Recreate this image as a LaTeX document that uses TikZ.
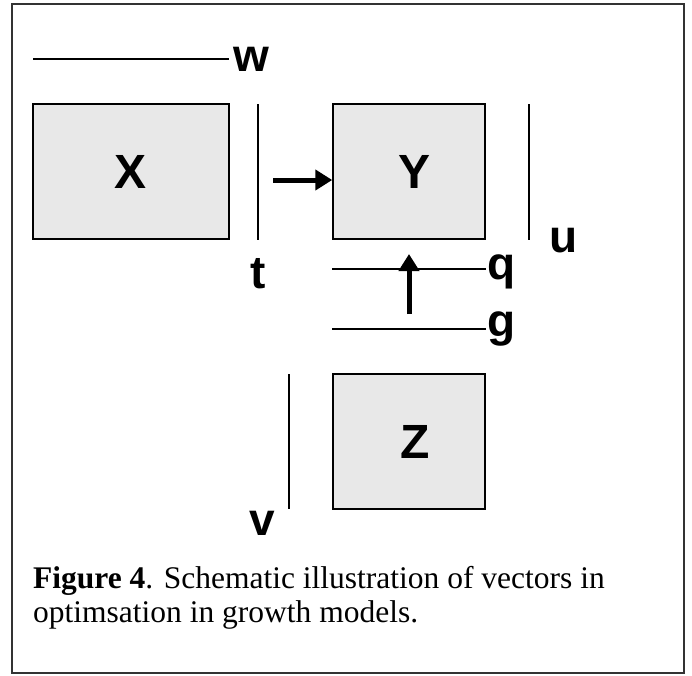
\documentclass[tikz,border=0pt]{standalone}
\usepackage{fontspec}
\setmainfont{Liberation Serif}
\newfontfamily\labelfont{Liberation Sans}
\usetikzlibrary{arrows.meta, positioning}

\begin{document}
\begin{tikzpicture}[x=1pt, y=-1pt,
    box/.style={draw, line width=1.5pt, fill=gray!18, minimum height=135pt,
        font=\labelfont\bfseries\fontsize{48}{48}\selectfont},
    vec/.style={line width=1.5pt},
    lbl/.style={inner sep=0pt, font=\labelfont\bfseries\fontsize{46}{46}\selectfont},
    flow/.style={line width=5pt, -{Triangle[length=17pt, width=20pt]}}]
    \useasboundingbox (0,0) rectangle (692,675);
    \draw[line width=1.5pt, black!80] (12,4) rectangle (684,673);

    % Boxes
    \node[box, minimum width=196pt] (X) at (131,171.5) {X};
    \node[box, minimum width=152pt] (Y) at (409,171.5) {\hspace*{10pt}Y};
    \node[box, minimum width=152pt] (Z) at (409,441.5) {\hspace*{12pt}Z};

    % Vectors
    \draw[vec] (33,59) -- (229,59);
    \node[lbl, anchor=base west] (w) at (233,71) {w};
    \draw[vec] (258,104) -- (258,240);
    \node[lbl, anchor=base] (t) at (258,288) {t};
    \draw[vec] (529,104) -- (529,240);
    \node[lbl, anchor=base west] (u) at (549,252) {u};
    \draw[vec] (Y.west |- 0,269) -- (Y.east |- 0,269);
    \node[lbl, anchor=base west] (q) at (487,279) {q};
    \draw[vec] (Y.west |- 0,329) -- (Y.east |- 0,329);
    \node[lbl, anchor=base west] (g) at (487,336) {g};
    \draw[vec] (289,374) -- (289,509);
    \node[lbl, anchor=base] (v) at (262,535) {v};

    % Flows
    \coordinate (xy) at (273,180);
    \draw[flow] (xy) -- (xy -| Y.west);
    \coordinate (zy) at (409,314);
    \draw[flow] (zy) -- (409,254);

    % Caption
    \node[anchor=base west, inner sep=0pt, font=\fontsize{31.5}{34}\selectfont] (cap1) at (33,588)
        {\textbf{Figure 4}. Schematic illustration of vectors in};
    \node[anchor=base west, inner sep=0pt, font=\fontsize{31.5}{34}\selectfont] (cap2) at (33,622)
        {optimsation in growth models.};
\end{tikzpicture}
\end{document}
